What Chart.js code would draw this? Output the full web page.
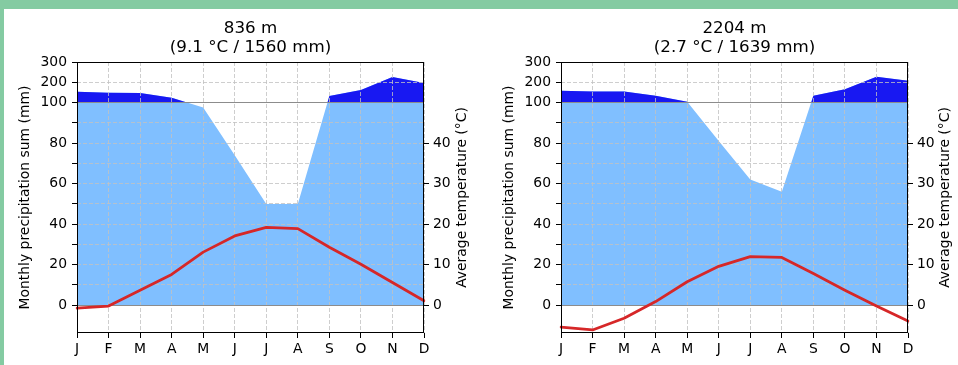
<!DOCTYPE html>
<html>
<head>
<meta charset="utf-8">
<script src="https://cdn.jsdelivr.net/npm/chart.js@4.4.1/dist/chart.umd.min.js"></script>
<style>
  html, body { margin: 0; padding: 0; background: #84cba2; overflow: hidden; }
  #sheet { position: absolute; left: 4px; top: 9px; width: 954px; height: 356px; background: #ffffff; }
  canvas { position: absolute; top: 0; }
</style>
</head>
<body>
<div id="sheet"></div>
<canvas id="lowStation" width="479" height="365" style="left:0px"></canvas>
<canvas id="highStation" width="479" height="365" style="left:479px"></canvas>
<script>
// Month initials along the x axis
const months = ['J', 'F', 'M', 'A', 'M', 'J', 'J', 'A', 'S', 'O', 'N', 'D'];

// Station at 836 m
const lowTitle = ['836 m', '(9.1 °C / 1560 mm)'];
const lowPrecip = [153, 148, 147, 124, 97.5, 74, 50, 50, 132, 162, 226, 196];   // mm
const lowTemp = [-0.7, -0.2, 3.7, 7.6, 13.1, 17.1, 19.2, 18.9, 14.3, 10.1, 5.6, 1.1]; // °C

// Station at 2204 m
const highTitle = ['2204 m', '(2.7 °C / 1639 mm)'];
const highPrecip = [158, 154, 154, 133, 104, 81, 62, 56, 133, 166, 227, 207];   // mm
const highTemp = [-5.4, -6.1, -3.2, 0.9, 5.8, 9.6, 12.0, 11.8, 7.8, 3.7, -0.2, -3.9]; // °C

// Precipitation axis ticks (mm) and their labels; above 100 mm the scale is compressed 1:10
const precipTickMm = [0, 10, 20, 30, 40, 50, 60, 70, 80, 90, 100, 200, 300];
const precipTickLabels = ['0', '', '20', '', '40', '', '60', '', '80', '', '100', '200', '300'];
// Temperature axis ticks (°C)
const tempTicks = [0, 10, 20, 30, 40];

function compress(mm) { return mm <= 100 ? mm : 100 + (mm - 100) / 10; }

Chart.defaults.font.family = '"DejaVu Sans", sans-serif';
Chart.defaults.font.size = 13.9;
Chart.defaults.color = '#000';

const GRID = '#c2c2c2';
const REF = '#8c8c8c';
function isRef(c) { return !!c.tick && (c.tick.value === 0 || c.tick.value === 100); }

// Frame, two-line heading and right-hand axis caption
const decorations = {
  id: 'decorations',
  afterDraw(chart, args, opts) {
    const { ctx, chartArea: a } = chart;
    ctx.save();
    ctx.strokeStyle = '#000';
    ctx.lineWidth = 1;
    ctx.strokeRect(a.left + 0.5, a.top + 0.5, a.right - a.left - 1, a.bottom - a.top - 1);

    ctx.fillStyle = '#000';
    ctx.textAlign = 'center';
    ctx.textBaseline = 'middle';
    ctx.font = '16.7px "DejaVu Sans"';
    const cx = (a.left + a.right) / 2;
    opts.lines.forEach((t, i) => ctx.fillText(t, cx, a.top - 33.2 + i * 18.7));

    const s = chart.scales.y2;
    ctx.translate(s.right - opts.captionOffset, (a.top + a.bottom) / 2);
    ctx.rotate(-Math.PI / 2);
    ctx.font = '13.9px "DejaVu Sans"';
    ctx.fillText('Average temperature (°C)', 0, 0);
    ctx.restore();
  }
};

function buildPanel(id, titleLines, precip, temp, box) {
  const scaled = precip.map(compress);
  return new Chart(document.getElementById(id), {
    type: 'line',
    data: {
      labels: months,
      datasets: [
        { data: scaled, yAxisID: 'y', fill: 'origin', backgroundColor: '#80bfff',
          borderColor: 'rgba(0,0,0,0)', borderWidth: 0, pointRadius: 0, order: 3 },
        { data: scaled, yAxisID: 'y',
          fill: { target: { value: 100 }, above: '#1818f2', below: 'rgba(0,0,0,0)' },
          borderColor: 'rgba(0,0,0,0)', borderWidth: 0, pointRadius: 0, order: 2 },
        { data: temp, yAxisID: 'y2', fill: false, borderColor: '#d62728', borderWidth: 2.8,
          pointRadius: 0, tension: 0, order: 1, borderJoinStyle: 'round', borderCapStyle: 'round' }
      ]
    },
    options: {
      responsive: false,
      animation: false,
      devicePixelRatio: 1,
      events: [],
      layout: { padding: { top: 62, left: 0, right: 0, bottom: 0 } },
      plugins: {
        legend: { display: false },
        tooltip: { enabled: false },
        filler: { drawTime: 'beforeDraw', propagate: false },
        decorations: { lines: titleLines, captionOffset: box.captionOffset }
      },
      scales: {
        x: {
          type: 'category', offset: false,
          afterFit(s) { s.height = 32; },
          grid: { color: GRID, lineWidth: 0.8, tickColor: '#000', tickLength: 5, tickWidth: 1, tickBorderDash: [] },
          border: { display: false, dash: [4, 2] },
          ticks: { color: '#000', padding: 3, autoSkip: false, maxRotation: 0 }
        },
        y: {
          type: 'linear', position: 'left', min: -13.7, max: 120,
          afterFit(s) { s.width = box.yWidth; },
          afterBuildTicks(s) { s.ticks = precipTickMm.map(v => ({ value: compress(v) })); },
          ticks: { color: '#000', padding: 5, autoSkip: false, callback: (v, i) => precipTickLabels[i] },
          grid: {
            color: c => isRef(c) ? REF : GRID,
            lineWidth: c => isRef(c) ? 1 : 0.8,
            tickColor: '#000', tickLength: 5, tickWidth: 1, tickBorderDash: []
          },
          border: { display: false, dash: c => isRef(c) ? [] : [4, 2] },
          title: { display: true, text: 'Monthly precipitation sum (mm)', color: '#000',
                   padding: { top: box.labelPad, bottom: 0 } }
        },
        y2: {
          type: 'linear', position: 'right', min: -6.85, max: 60,
          afterFit(s) { s.width = box.y2Width; },
          afterBuildTicks(s) { s.ticks = tempTicks.map(v => ({ value: v })); },
          ticks: { color: '#000', padding: 4 },
          grid: { drawOnChartArea: false, tickColor: '#000', tickLength: 5, tickWidth: 1 },
          border: { display: false }
        }
      }
    },
    plugins: [decorations]
  });
}

buildPanel('lowStation', lowTitle, lowPrecip, lowTemp, { yWidth: 77, y2Width: 55, labelPad: 17, captionOffset: 16.2 });
buildPanel('highStation', highTitle, highPrecip, highTemp, { yWidth: 82, y2Width: 50, labelPad: 22, captionOffset: 12.2 });
</script>
</body>
</html>
